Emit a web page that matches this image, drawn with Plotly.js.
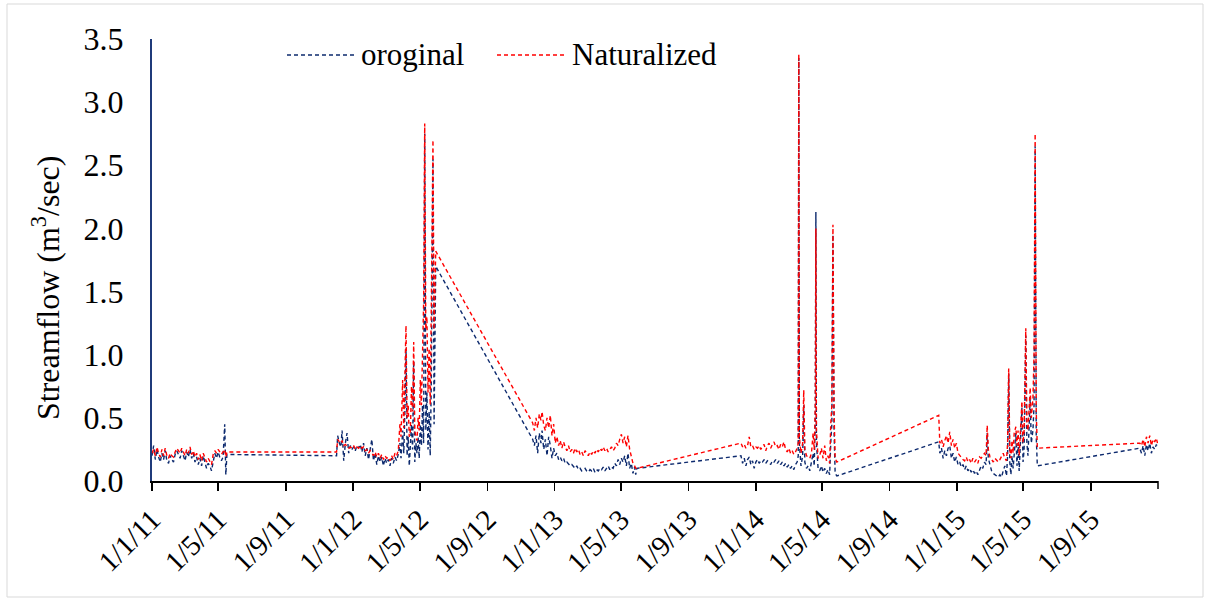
<!DOCTYPE html>
<html>
<head>
<meta charset="utf-8">
<script src="https://cdn.plot.ly/plotly-3.0.1.min.js"></script>
<style>
  html, body { margin: 0; padding: 0; background: #ffffff; }
  #chart { width: 1208px; height: 601px; }
</style>
</head>
<body>
<div id="chart"></div>
<script>
// ---- Data (daily streamflow, m3/sec) ----
// Season 1: Jan - May 2011
const dates2011 = ['2011-01-01','2011-01-04','2011-01-07','2011-01-10','2011-01-13','2011-01-16','2011-01-19','2011-01-22','2011-01-25','2011-01-28','2011-01-31',
  '2011-02-03','2011-02-06','2011-02-09','2011-02-12','2011-02-15','2011-02-18','2011-02-21','2011-02-24','2011-02-27',
  '2011-03-02','2011-03-05','2011-03-08','2011-03-11','2011-03-14','2011-03-17','2011-03-20','2011-03-23','2011-03-26','2011-03-29',
  '2011-04-01','2011-04-04','2011-04-07','2011-04-10','2011-04-13','2011-04-16','2011-04-19','2011-04-22','2011-04-25','2011-04-28',
  '2011-05-01','2011-05-04','2011-05-07','2011-05-10','2011-05-13','2011-05-15','2011-05-17'];
const orig2011 = [0.20,0.28,0.17,0.25,0.19,0.15,0.22,0.17,0.24,0.16,0.14,
  0.20,0.17,0.15,0.21,0.24,0.21,0.18,0.24,0.20,
  0.16,0.23,0.19,0.25,0.18,0.22,0.15,0.19,0.13,0.18,
  0.12,0.20,0.15,0.10,0.14,0.12,0.08,0.17,0.22,0.18,
  0.23,0.19,0.16,0.19,0.45,0.05,0.21];
const nat2011 = [0.22,0.25,0.20,0.27,0.22,0.19,0.25,0.20,0.26,0.20,0.18,
  0.22,0.20,0.19,0.23,0.26,0.24,0.22,0.26,0.23,
  0.20,0.25,0.22,0.27,0.21,0.24,0.19,0.22,0.17,0.21,
  0.16,0.22,0.19,0.15,0.18,0.16,0.13,0.21,0.24,0.22,
  0.25,0.23,0.21,0.23,0.25,0.19,0.23];

// Season 2: Dec 2011 - May 2012
const dates2012 = ['2011-12-02','2011-12-04','2011-12-07','2011-12-10','2011-12-12','2011-12-15','2011-12-18','2011-12-21','2011-12-24','2011-12-27','2011-12-30',
  '2012-01-02','2012-01-05','2012-01-08','2012-01-11','2012-01-14','2012-01-17','2012-01-20','2012-01-23','2012-01-26','2012-01-29',
  '2012-02-01','2012-02-04','2012-02-07','2012-02-10','2012-02-13','2012-02-16','2012-02-19','2012-02-22','2012-02-25','2012-02-28',
  '2012-03-02','2012-03-05','2012-03-08','2012-03-11','2012-03-14','2012-03-17','2012-03-20','2012-03-23','2012-03-26','2012-03-28','2012-03-31',
  '2012-04-02','2012-04-04','2012-04-06','2012-04-08','2012-04-10','2012-04-12','2012-04-14','2012-04-16','2012-04-18','2012-04-20','2012-04-22','2012-04-24','2012-04-26','2012-04-28','2012-04-30',
  '2012-05-02','2012-05-04','2012-05-06','2012-05-08','2012-05-10','2012-05-12','2012-05-14','2012-05-16','2012-05-18','2012-05-20','2012-05-22','2012-05-25','2012-05-27','2012-05-30'];
const orig2012 = [0.20,0.36,0.30,0.27,0.40,0.16,0.30,0.38,0.22,0.28,0.25,
  0.27,0.24,0.28,0.26,0.29,0.23,0.30,0.20,0.26,0.17,
  0.24,0.33,0.16,0.22,0.13,0.20,0.15,0.19,0.12,0.18,
  0.14,0.17,0.12,0.18,0.14,0.19,0.16,0.21,0.30,0.18,0.40,
  0.22,0.55,1.05,0.20,0.35,0.12,0.28,0.45,0.25,0.95,0.15,0.30,0.22,0.35,0.18,
  0.45,0.28,0.60,0.30,2.75,0.40,0.70,0.25,0.55,0.20,0.80,2.55,0.45,1.70];
const nat2012 = [0.23,0.33,0.31,0.30,0.32,0.28,0.29,0.27,0.26,0.27,0.26,
  0.28,0.25,0.27,0.26,0.28,0.26,0.27,0.24,0.25,0.22,
  0.24,0.22,0.20,0.23,0.19,0.22,0.18,0.21,0.17,0.20,
  0.18,0.19,0.16,0.20,0.17,0.22,0.20,0.24,0.45,0.35,0.80,
  0.42,0.90,1.23,0.50,0.60,0.35,0.40,0.75,0.55,1.10,0.40,0.35,0.32,0.50,0.40,
  0.80,0.60,1.00,1.40,2.83,1.20,1.30,0.70,1.05,0.60,1.40,2.70,1.20,1.82];

// Season 3: Nov 2012 - May 2013
const dates2013 = ['2012-11-22','2012-11-25','2012-11-28','2012-12-01','2012-12-04','2012-12-07','2012-12-09','2012-12-12','2012-12-15','2012-12-18','2012-12-21','2012-12-24','2012-12-27','2012-12-30',
  '2013-01-02','2013-01-05','2013-01-08','2013-01-11','2013-01-14','2013-01-17','2013-01-20','2013-01-23','2013-01-26','2013-01-29',
  '2013-02-01','2013-02-04','2013-02-07','2013-02-10','2013-02-13','2013-02-16','2013-02-19','2013-02-22','2013-02-25','2013-02-28',
  '2013-03-03','2013-03-06','2013-03-09','2013-03-12','2013-03-15','2013-03-18','2013-03-21','2013-03-24','2013-03-27','2013-03-30',
  '2013-04-02','2013-04-05','2013-04-08','2013-04-11','2013-04-14','2013-04-17','2013-04-20','2013-04-23','2013-04-26','2013-04-29',
  '2013-05-02','2013-05-05','2013-05-08','2013-05-11','2013-05-14','2013-05-17','2013-05-20','2013-05-23','2013-05-26','2013-05-28','2013-05-30'];
const orig2013 = [0.33,0.28,0.36,0.22,0.38,0.30,0.40,0.25,0.33,0.20,0.35,0.28,0.18,0.26,
  0.20,0.22,0.17,0.19,0.16,0.18,0.14,0.15,0.13,0.12,
  0.13,0.11,0.10,0.12,0.09,0.10,0.08,0.09,0.10,0.08,
  0.07,0.09,0.08,0.10,0.07,0.09,0.08,0.10,0.09,0.11,
  0.08,0.10,0.12,0.09,0.11,0.10,0.14,0.12,0.17,0.13,
  0.18,0.15,0.20,0.12,0.22,0.10,0.14,0.06,0.11,0.05,0.10];
const nat2013 = [0.46,0.40,0.50,0.42,0.53,0.48,0.55,0.44,0.40,0.50,0.42,0.52,0.36,0.45,
  0.30,0.35,0.28,0.32,0.26,0.31,0.27,0.24,0.28,0.23,
  0.25,0.22,0.26,0.23,0.25,0.21,0.23,0.20,0.24,0.22,
  0.20,0.23,0.21,0.24,0.22,0.25,0.23,0.26,0.24,0.27,
  0.24,0.26,0.23,0.25,0.27,0.24,0.26,0.30,0.28,0.33,
  0.37,0.30,0.35,0.27,0.36,0.25,0.20,0.14,0.12,0.10,0.10];

// Season 4: Dec 2013 - May 2014
const dates2014 = ['2013-12-05','2013-12-08','2013-12-11','2013-12-14','2013-12-17','2013-12-20','2013-12-23','2013-12-26','2013-12-29',
  '2014-01-01','2014-01-04','2014-01-07','2014-01-10','2014-01-13','2014-01-16','2014-01-19','2014-01-22','2014-01-25','2014-01-28','2014-01-31',
  '2014-02-03','2014-02-06','2014-02-09','2014-02-12','2014-02-15','2014-02-18','2014-02-21','2014-02-24','2014-02-27',
  '2014-03-02','2014-03-05','2014-03-08','2014-03-11','2014-03-14','2014-03-17','2014-03-19','2014-03-20','2014-03-21','2014-03-24','2014-03-27','2014-03-29','2014-03-31',
  '2014-04-03','2014-04-06','2014-04-09','2014-04-12','2014-04-15','2014-04-17','2014-04-19','2014-04-20','2014-04-21','2014-04-24','2014-04-27','2014-04-30',
  '2014-05-03','2014-05-06','2014-05-09','2014-05-12','2014-05-15','2014-05-17','2014-05-19','2014-05-21','2014-05-23','2014-05-25','2014-05-28'];
const orig2014 = [0.20,0.14,0.18,0.12,0.17,0.19,0.13,0.16,0.10,
  0.15,0.17,0.14,0.16,0.15,0.17,0.14,0.16,0.15,0.13,0.16,
  0.15,0.17,0.14,0.16,0.13,0.15,0.12,0.14,0.11,
  0.13,0.10,0.12,0.09,0.13,0.15,0.20,3.35,0.30,0.12,0.20,0.60,0.15,
  0.10,0.12,0.08,0.14,0.22,0.12,0.50,2.13,0.30,0.10,0.08,0.12,
  0.07,0.10,0.06,0.09,0.05,0.30,0.45,1.95,0.40,0.06,0.04];
const nat2014 = [0.30,0.27,0.29,0.26,0.28,0.35,0.27,0.28,0.25,
  0.27,0.26,0.28,0.25,0.27,0.29,0.24,0.28,0.30,0.26,0.29,
  0.31,0.27,0.28,0.25,0.29,0.27,0.31,0.25,0.23,
  0.26,0.22,0.24,0.21,0.23,0.26,0.30,3.38,0.35,0.22,0.30,0.72,0.25,
  0.20,0.19,0.18,0.22,0.38,0.25,0.60,2.00,0.40,0.18,0.20,0.26,
  0.18,0.28,0.16,0.20,0.14,0.45,0.60,2.03,0.55,0.18,0.15];

// Season 5: Nov 2014 - May 2015
const dates2015 = ['2014-11-29','2014-12-01','2014-12-04','2014-12-07','2014-12-10','2014-12-13','2014-12-16','2014-12-19','2014-12-22','2014-12-25','2014-12-28','2014-12-31',
  '2015-01-03','2015-01-06','2015-01-09','2015-01-12','2015-01-15','2015-01-18','2015-01-21','2015-01-24','2015-01-27','2015-01-30',
  '2015-02-02','2015-02-05','2015-02-08','2015-02-11','2015-02-14','2015-02-17','2015-02-20','2015-02-23','2015-02-25','2015-02-27',
  '2015-03-02','2015-03-05','2015-03-08','2015-03-11','2015-03-14','2015-03-17','2015-03-20','2015-03-23','2015-03-26','2015-03-29',
  '2015-04-01','2015-04-03','2015-04-05','2015-04-07','2015-04-09','2015-04-11','2015-04-13','2015-04-15','2015-04-18','2015-04-20','2015-04-22','2015-04-24','2015-04-27','2015-04-29',
  '2015-05-01','2015-05-03','2015-05-06','2015-05-08','2015-05-10','2015-05-12','2015-05-14','2015-05-16','2015-05-19','2015-05-21','2015-05-23','2015-05-25','2015-05-27'];
const orig2015 = [0.31,0.22,0.26,0.18,0.24,0.20,0.26,0.28,0.18,0.22,0.15,0.19,
  0.13,0.15,0.11,0.13,0.09,0.12,0.08,0.10,0.07,0.09,
  0.06,0.08,0.05,0.09,0.12,0.10,0.15,0.13,0.38,0.18,
  0.12,0.08,0.06,0.05,0.04,0.03,0.05,0.03,0.08,0.12,
  0.04,0.20,0.85,0.15,0.05,0.20,0.10,0.25,0.38,0.12,0.30,0.08,0.35,0.58,
  0.15,0.25,1.15,0.30,0.20,0.45,0.65,0.30,0.40,0.60,2.65,0.35,0.12];
const nat2015 = [0.52,0.30,0.33,0.27,0.32,0.36,0.30,0.39,0.28,0.33,0.26,0.30,
  0.22,0.20,0.18,0.17,0.16,0.19,0.15,0.17,0.14,0.18,
  0.15,0.17,0.14,0.19,0.18,0.20,0.22,0.20,0.44,0.25,
  0.19,0.17,0.15,0.18,0.16,0.15,0.17,0.19,0.22,0.18,
  0.16,0.30,0.89,0.25,0.18,0.32,0.22,0.38,0.43,0.28,0.40,0.20,0.45,0.63,
  0.30,0.40,1.21,0.45,0.40,0.60,0.74,0.50,0.65,1.00,2.75,0.55,0.26];

// Season 6: Dec 2015
const dates2016 = ['2015-11-29','2015-12-02','2015-12-05','2015-12-08','2015-12-11','2015-12-14','2015-12-17','2015-12-20','2015-12-23','2015-12-26','2015-12-29','2015-12-31'];
const orig2016 = [0.26,0.22,0.28,0.20,0.29,0.24,0.30,0.22,0.27,0.25,0.29,0.26];
const nat2016 = [0.30,0.28,0.33,0.27,0.35,0.30,0.36,0.28,0.33,0.31,0.34,0.30];

// Axis ticks (labelled every four months)
const tickDates = ['2011-01-01','2011-05-01','2011-09-01','2012-01-01','2012-05-01','2012-09-01','2013-01-01','2013-05-01','2013-09-01','2014-01-01','2014-05-01','2014-09-01','2015-01-01','2015-05-01','2015-09-01'];
const tickLabels = ['1/1/11','1/5/11','1/9/11','1/1/12','1/5/12','1/9/12','1/1/13','1/5/13','1/9/13','1/1/14','1/5/14','1/9/14','1/1/15','1/5/15','1/9/15'];
const seriesNames = ['oroginal', 'Naturalized'];
const seriesColors = ['#0D2A6E', '#FF0000'];
const yTitle = 'Streamflow (m<sup>3</sup>/sec)';

// ---- Build ----
const allDates = [].concat(dates2011, dates2012, dates2013, dates2014, dates2015, dates2016);
const allOrig = [].concat(orig2011, orig2012, orig2013, orig2014, orig2015, orig2016);
const allNat = [].concat(nat2011, nat2012, nat2013, nat2014, nat2015, nat2016);

const FONT = 'Liberation Serif';
const L = 152, R = 1158, T = 39, B = 481;
const px = x => (x - L) / (R - L);
const py = y => (B - y) / (B - T);

const traces = [
  { x: allDates, y: allOrig, type: 'scatter', mode: 'lines', name: seriesNames[0],
    line: { color: seriesColors[0], width: 1.4, dash: '4px,3px' }, showlegend: false },
  { x: allDates, y: allNat, type: 'scatter', mode: 'lines', name: seriesNames[1],
    line: { color: seriesColors[1], width: 1.4, dash: '4px,3px' }, showlegend: false }
];

const shapes = [
  { type: 'rect', xref: 'paper', yref: 'paper', x0: px(7), x1: px(1203), y0: py(597), y1: py(4),
    line: { color: '#D9D9D9', width: 1 }, fillcolor: 'rgba(0,0,0,0)', layer: 'below' },
  // closing tick mark at the end of the date axis (1/1/16, unlabelled)
  { type: 'line', xref: 'paper', yref: 'paper', x0: 1, x1: 1, y0: 0, y1: py(489),
    line: { color: '#000', width: 1.5 } },
  { type: 'line', xref: 'paper', yref: 'paper', x0: px(287), x1: px(354), y0: py(55), y1: py(55),
    line: { color: seriesColors[0], width: 1.4, dash: '4px,3px' } },
  { type: 'line', xref: 'paper', yref: 'paper', x0: px(497), x1: px(565), y0: py(55), y1: py(55),
    line: { color: seriesColors[1], width: 1.4, dash: '4px,3px' } }
];

const annotations = [
  { xref: 'paper', yref: 'paper', x: px(359), y: py(54), xanchor: 'left', yanchor: 'middle',
    text: seriesNames[0], showarrow: false, font: { family: FONT, size: 31, color: '#000' } },
  { xref: 'paper', yref: 'paper', x: px(570), y: py(54), xanchor: 'left', yanchor: 'middle',
    text: seriesNames[1], showarrow: false, font: { family: FONT, size: 31, color: '#000' } },
  { xref: 'paper', yref: 'paper', x: px(46), y: py(288), xanchor: 'center', yanchor: 'middle',
    textangle: -90, text: yTitle, showarrow: false, font: { family: FONT, size: 32, color: '#000' } }
];

const layout = {
  width: 1208, height: 601,
  margin: { l: L, r: 1208 - R, t: T, b: 601 - B, pad: 0 },
  paper_bgcolor: '#ffffff', plot_bgcolor: '#ffffff',
  showlegend: false,
  font: { family: FONT, color: '#000' },
  xaxis: {
    type: 'date', range: ['2011-01-01', '2016-01-01'],
    tickmode: 'array', tickvals: tickDates, ticktext: tickLabels,
    tickangle: -45, tickfont: { family: FONT, size: 29, color: '#000' },
    ticks: 'outside', ticklen: 8, tickwidth: 1.5, tickcolor: '#000',
    showline: true, linecolor: '#000', linewidth: 2,
    showgrid: false, zeroline: false, automargin: false
  },
  yaxis: {
    range: [0, 3.5], tickmode: 'linear', tick0: 0, dtick: 0.5, tickformat: '.1f',
    tickfont: { family: FONT, size: 32, color: '#000' },
    ticks: '', ticklabelstandoff: 20,
    showline: true, linecolor: '#1F3A7A', linewidth: 2,
    showgrid: false, zeroline: false, automargin: false
  },
  shapes: shapes,
  annotations: annotations
};

Plotly.newPlot('chart', traces, layout, { displayModeBar: false, staticPlot: true });
</script>
</body>
</html>
